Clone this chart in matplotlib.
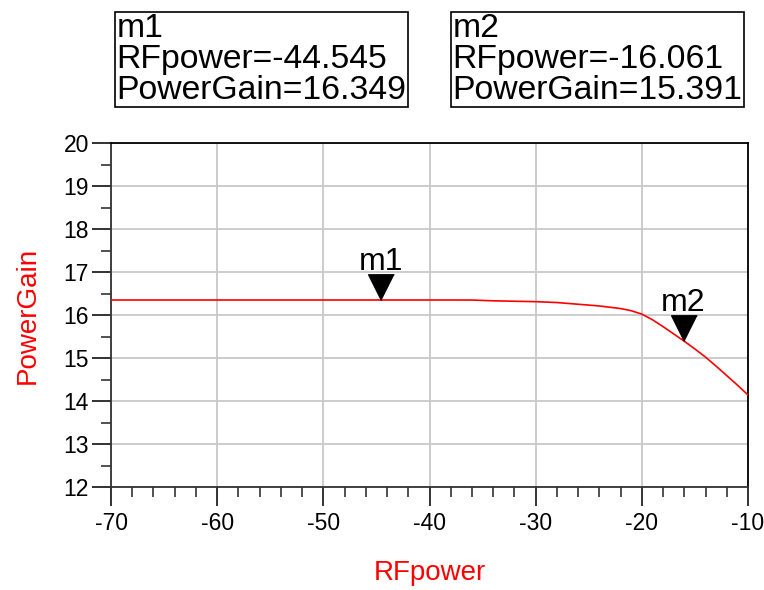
import matplotlib
matplotlib.use("Agg")
import matplotlib.pyplot as plt
from matplotlib.ticker import MultipleLocator

plt.rcParams['font.family'] = ['Liberation Sans', 'DejaVu Sans']
plt.rcParams['axes.unicode_minus'] = False

# data
rf_power = [-70, -60, -50, -40, -36, -34, -32, -30, -28, -26, -24, -22,
            -21, -20, -19, -18, -17, -16, -15, -14, -13, -12, -11, -10]
power_gain = [16.349, 16.349, 16.349, 16.349, 16.348, 16.33, 16.32, 16.31,
              16.29, 16.25, 16.21, 16.15, 16.10, 16.02, 15.89, 15.73,
              15.56, 15.39, 15.21, 15.02, 14.81, 14.59, 14.37, 14.14]

markers = ["m1", "m2"]
marker_x = [-44.545, -16.061]
marker_y = [16.349, 15.391]

fig = plt.figure(figsize=(7.64, 5.90), dpi=100)
ax = fig.add_axes([111 / 764, 1 - 487 / 590, 637 / 764, 344 / 590])

ax.plot(rf_power, power_gain, color='red', lw=1.2, zorder=3)

ax.set_xlim(-70, -10)
ax.set_ylim(12, 20)
ax.xaxis.set_major_locator(MultipleLocator(10))
ax.xaxis.set_minor_locator(MultipleLocator(2))
ax.yaxis.set_major_locator(MultipleLocator(1))
ax.yaxis.set_minor_locator(MultipleLocator(0.5))
ax.grid(True, which='major', color='#c8c8c8', lw=1.3)
ax.tick_params(which='major', direction='out', length=14, width=1.3,
               labelsize=16.5, color='#222222', labelcolor='black', pad=2)
ax.tick_params(which='minor', direction='out', length=7, width=1.1,
               color='#222222')
ax.tick_params(axis='x', which='major', pad=4)
for s in ['left', 'bottom']:
    ax.spines[s].set_color('#333333')
    ax.spines[s].set_linewidth(1.3)
for s in ['top', 'right']:
    ax.spines[s].set_color('black')
    ax.spines[s].set_linewidth(1.3)

ax.set_xlabel('RFpower', color='red', fontsize=20, labelpad=18)
ax.set_ylabel('PowerGain', color='red', fontsize=20, labelpad=16)

# marker triangles (tip on the curve) and labels
tri = [(0, 0), (-0.5, 1), (0.5, 1)]
for name, mx, my in zip(markers, marker_x, marker_y):
    ax.plot([mx], [my], marker=tri, markersize=37, color='black',
            linestyle='none', zorder=4, clip_on=False)
    ax.annotate(name, (mx, my), xytext=(0, 21.5), textcoords='offset points',
                ha='center', va='baseline', fontsize=23, zorder=5)

# marker readout boxes
box_left = [115, 451]
for name, mx, my, bx in zip(markers, marker_x, marker_y, box_left):
    txt = "%s\nRFpower=%.3f\nPowerGain=%.3f" % (name, mx, my)
    fig.text(bx / 764 + 0.002, 1 - 13 / 590, txt, ha='left', va='top',
             fontsize=24.3, linespacing=1.0,
             bbox=dict(boxstyle='square,pad=0.04', fc='white', ec='black', lw=1.2))

fig.savefig('out.png', dpi=100)
